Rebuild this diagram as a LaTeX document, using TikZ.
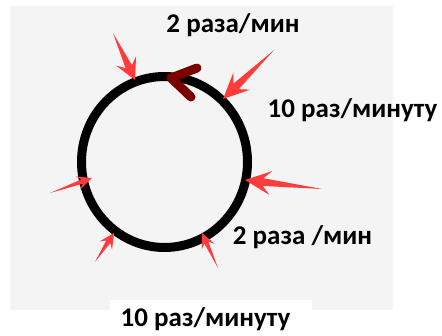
\documentclass[tikz,border=0pt]{standalone}
\usepackage{fontspec}
\setmainfont{Carlito}
\usetikzlibrary{calc,shapes.geometric}
\definecolor{bggray}{HTML}{F4F4F4}
\definecolor{arrowred}{HTML}{FF3B3B}
\definecolor{darkred}{HTML}{7A0000}
\newcommand{\fatarrow}[4]{%
  \fill[arrowred] (#2)
    -- ($(#2)!#3pt!(#1)!#4pt!90:(#1)$)
    -- ($(#2)!0.7*#3pt!(#1)!0.32*#4pt!90:(#1)$)
    -- (#1)
    -- ($(#2)!0.7*#3pt!(#1)!0.32*#4pt!-90:(#1)$)
    -- ($(#2)!#3pt!(#1)!#4pt!-90:(#1)$)
    -- cycle;}
\begin{document}
\begin{tikzpicture}[x=1pt,y=-1pt,
  lbl/.style={font=\fontsize{27}{30}\selectfont\bfseries, anchor=base, inner sep=0pt, text=black}]
\useasboundingbox (0,0) rectangle (442,336);
\fill[white] (0,0) rectangle (442,336);
\fill[bggray] (10,6) rectangle (393,310);
\fill[white] (110,300) rectangle (312,336);
% ring
\node[ellipse, draw=black, line width=9pt, minimum width=166pt, minimum height=171pt] (ring) at (164.5,162) {};
% arrow ends
\coordinate (s1) at (113,33);  \coordinate (e1) at (135,80);
\coordinate (s2) at (274,50);  \coordinate (e2) at (223,99);
\coordinate (s3) at (322,189); \coordinate (e3) at (245,180);
\coordinate (s4) at (50,193);  \coordinate (e4) at (92,178);
\coordinate (s5) at (95,262);  \coordinate (e5) at (114,233);
\coordinate (s6) at (218,268); \coordinate (e6) at (202,233);
\fatarrow{s1}{e1}{21}{11}
\fatarrow{s2}{e2}{26}{12}
\fatarrow{s3}{e3}{26}{12}
\fatarrow{s4}{e4}{15}{7}
\fatarrow{s5}{e5}{15}{7.5}
\fatarrow{s6}{e6}{15}{7}
% dark red chevron
\coordinate (c1) at (197,68);
\coordinate (c2) at (171,78);
\coordinate (c3) at (191,97);
\draw[darkred, line width=9pt, line cap=round, line join=round] (c1) -- (c2) -- (c3);
% labels
\node[lbl] (t1) at (233,33) {2 раза/мин};
\node[lbl] (t2) at (352.5,118) {10 раз/минуту};
\node[lbl] (t3) at (302.5,245) {2 раза /мин};
\node[lbl] (t4) at (205.5,327) {10 раз/минуту};
\end{tikzpicture}
\end{document}
